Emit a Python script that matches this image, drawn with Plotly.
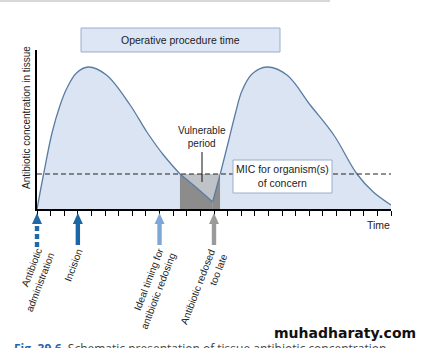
import plotly.graph_objects as go

# ---- data ----
t_dose1 = [0, 0.5, 1.1, 1.7, 2.2, 2.9, 3.77, 5.1, 6.84, 8.07, 9.29, 10.5, 11.74, 12.9]
c_dose1 = [0, 36, 76, 104, 121, 136, 142, 134, 104, 77, 54, 35, 21, 7]
t_dose2 = [12.9, 13.46, 14.07, 14.56, 15.05, 15.79, 16.89, 18.36, 20.07, 21.8, 23.5, 24.7, 26]
c_dose2 = [7, 35, 68, 95, 118, 135, 142, 134, 104, 74, 35, 17, 4]
mic_level = 35
vuln_start = 10.5
vuln_end = 13.46
event_times = [0, 3, 9, 13]
event_labels = ["Antibiotic<br>administration", "Incision",
                "Ideal timing for<br>antibiotic redosing", "Antibiotic redosed<br>too late"]
event_colors = ["#2068a8", "#1a66a6", "#7ea7d6", "#9a9a9a"]
event_dashed = [True, False, False, False]
x_range = [0, 26]
y_range = [0, 159]

# ---- layout geometry (pixels) ----
W, H = 423, 348
L, R, T, B = 37, 32, 50, 139
PW, PH = W - L - R, H - T - B

def xp(px):
    return (px - L) / PW

def yp(py):
    return (H - B - py) / PH

def tx(t):
    return (t - x_range[0]) / (x_range[1] - x_range[0])

NARROW = "Liberation Sans Narrow, Arial Narrow, Liberation Sans, Arial, sans-serif"
BLUE_FILL = "#dae4f2"
CURVE = "#5a7ca3"
DARK_GRAY = "#8c8c8c"
LIGHT_GRAY = "#bfc2c7"

fig = go.Figure()

def seg(ts, cs, lo, hi):
    pts = [(t, c) for t, c in zip(ts, cs) if lo <= t <= hi]
    return [p[0] for p in pts], [p[1] for p in pts]

x, y = seg(t_dose1, c_dose1, -1, vuln_start)
fig.add_trace(go.Scatter(x=x, y=y, mode="lines", line=dict(color=CURVE, width=1.3, shape="spline"),
                         fill="tozeroy", fillcolor=BLUE_FILL, hoverinfo="skip"))
x, y = seg(t_dose1, c_dose1, vuln_start, 99)
fig.add_trace(go.Scatter(x=x, y=y, mode="lines", line=dict(color=CURVE, width=1.3, shape="spline"),
                         fill="tozeroy", fillcolor=DARK_GRAY, hoverinfo="skip"))
x, y = seg(t_dose2, c_dose2, -1, vuln_end)
fig.add_trace(go.Scatter(x=x, y=y, mode="lines", line=dict(color=CURVE, width=1.3),
                         fill="tozeroy", fillcolor=DARK_GRAY, hoverinfo="skip"))
x, y = seg(t_dose2, c_dose2, vuln_end, 99)
fig.add_trace(go.Scatter(x=x, y=y, mode="lines", line=dict(color=CURVE, width=1.3, shape="spline"),
                         fill="tozeroy", fillcolor=BLUE_FILL, hoverinfo="skip"))

shapes = []
shapes.append(dict(type="rect", xref="x", yref="y", x0=vuln_start, x1=vuln_end, y0=0, y1=mic_level,
                   fillcolor=LIGHT_GRAY, line=dict(width=0), layer="below"))
shapes.append(dict(type="line", xref="x", yref="y", x0=x_range[0], x1=x_range[1], y0=mic_level, y1=mic_level,
                   line=dict(color="#222222", width=1, dash="5px,3px")))
shapes.append(dict(type="rect", xref="paper", yref="paper", x0=xp(233), x1=xp(332), y0=yp(193), y1=yp(160),
                   fillcolor="white", line=dict(color="#9aaecb", width=1)))
shapes.append(dict(type="rect", xref="paper", yref="paper", x0=xp(81), x1=xp(280), y0=yp(52), y1=yp(28),
                   fillcolor="#dce6f4", line=dict(color="#9aaecb", width=1)))
shapes.append(dict(type="line", xref="paper", yref="paper", x0=xp(202), x1=xp(202), y0=yp(152), y1=yp(182),
                   line=dict(color="#111111", width=1)))
shapes.append(dict(type="line", xref="paper", yref="paper", x0=xp(0), x1=xp(330), y0=yp(1), y1=yp(1),
                   line=dict(color="#d8d8d8", width=2)))

hw = 5.0 / PW
sw = 2.2 / PW
tip, base, tail = yp(213), yp(224), yp(245)
for t, col, dashed in zip(event_times, event_colors, event_dashed):
    cx = tx(t)
    shapes.append(dict(type="path", xref="paper", yref="paper",
                       path=f"M {cx-hw},{base} L {cx},{tip} L {cx+hw},{base} Z",
                       fillcolor=col, line=dict(width=0)))
    if dashed:
        for a, b in [(226, 231), (234, 239), (242, 247)]:
            shapes.append(dict(type="rect", xref="paper", yref="paper", x0=cx - sw, x1=cx + sw,
                               y0=yp(b), y1=yp(a), fillcolor=col, line=dict(width=0)))
    else:
        shapes.append(dict(type="rect", xref="paper", yref="paper", x0=cx - sw, x1=cx + sw,
                           y0=tail, y1=base, fillcolor=col, line=dict(width=0)))

annotations = []
def note(text, px, py, size=11, angle=0, family=NARROW, color="#222222", align="center"):
    annotations.append(dict(text=text, xref="paper", yref="paper", x=xp(px), y=yp(py),
                            xanchor="center", yanchor="middle",
                            showarrow=False, textangle=angle, align=align,
                            font=dict(family=family, size=size, color=color)))

note("Operative procedure time", 180, 40, size=10.5)
note("Antibiotic concentration in tissue", 26, 118, size=10, angle=-90)
note("Vulnerable<br>period", 202, 137, size=10)
note("MIC for organism(s)<br>of concern", 282, 176, size=10.5)
note("Time", 378, 225, size=10.5)

label_pos = [(34, 280), (73, 265), (152, 289), (204, 289)]
for lab, (px, py) in zip(event_labels, label_pos):
    note(lab, px, py, size=10, angle=-69, align="right")

annotations.append(dict(
    text='<span style="color:#2a64a8"><b>Fig. 39.6</b></span>  '
         '<span style="color:#444444">Schematic presentation of tissue antibiotic concentration</span>',
    xref="paper", yref="paper", x=xp(12), y=yp(338), xanchor="left", yanchor="top",
    showarrow=False, font=dict(family="Open Sans, sans-serif", size=12)))
annotations.append(dict(text="<b>muhadharaty.com</b>", xref="paper", yref="paper", x=xp(345), y=yp(333),
                        xanchor="center", yanchor="middle",
                        showarrow=False, font=dict(family="DejaVu Sans, sans-serif", size=14, color="#111111")))

fig.update_layout(
    width=W, height=H, margin=dict(l=L, r=R, t=T, b=B),
    plot_bgcolor="white", paper_bgcolor="white", showlegend=False,
    shapes=shapes, annotations=annotations,
    xaxis=dict(range=x_range, showline=True, linecolor="black", linewidth=1.5, ticks="outside",
               ticklen=5, tickwidth=1, tickcolor="black", tick0=0, dtick=1, showticklabels=False,
               showgrid=False, zeroline=False, fixedrange=True),
    yaxis=dict(range=y_range, showline=True, linecolor="black", linewidth=1.5, ticks="",
               showticklabels=False, showgrid=False, zeroline=False, fixedrange=True),
)

fig.write_html("out.html")
